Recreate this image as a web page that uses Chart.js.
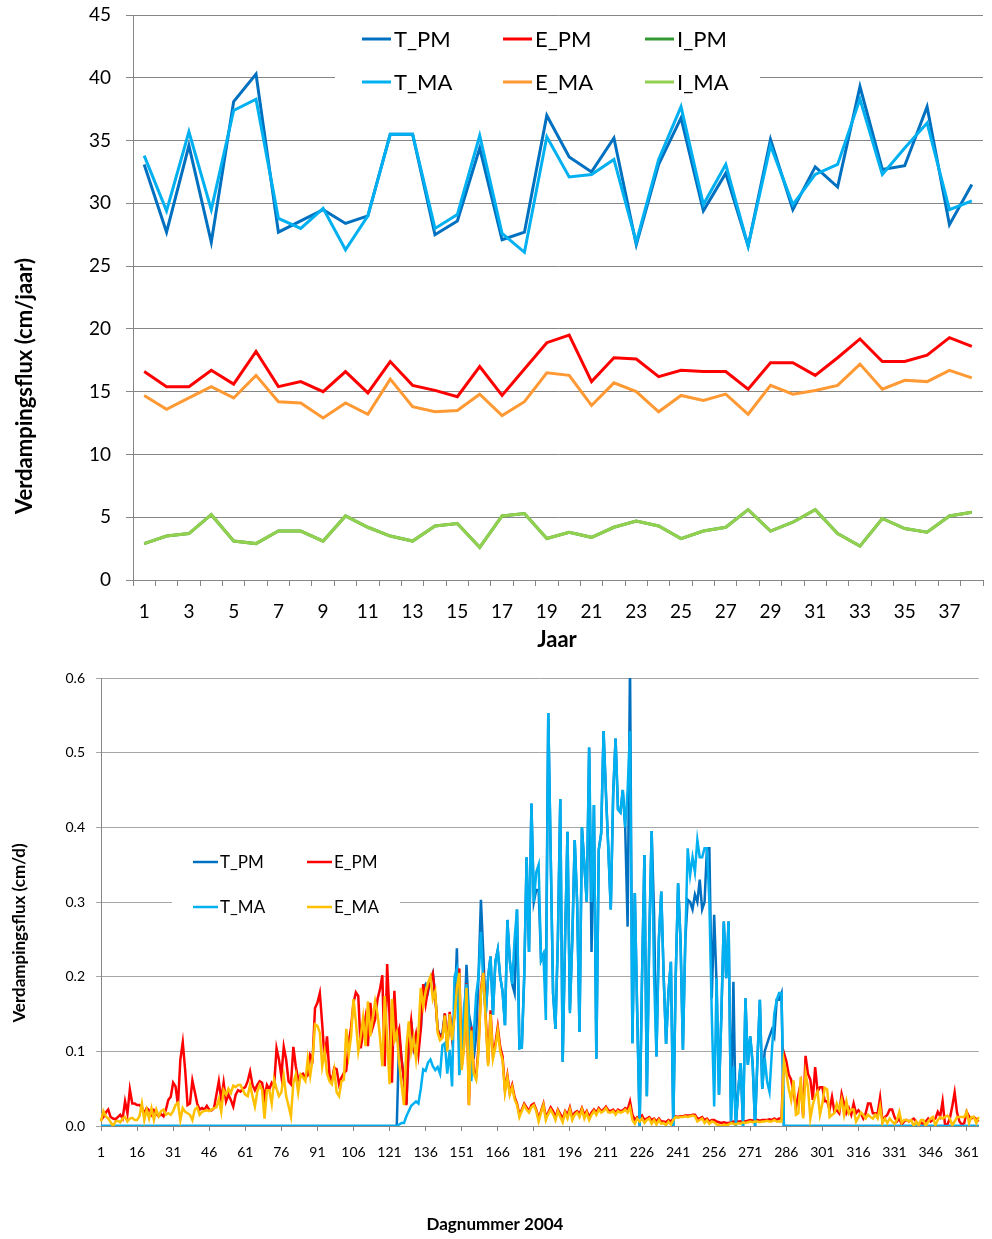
<!DOCTYPE html>
<html>
<head>
<meta charset="utf-8">
<script src="https://cdn.jsdelivr.net/npm/chart.js@4.4.1/dist/chart.umd.min.js"></script>
<style>
  body { margin: 0; background: #fff; }
  #boven, #onder { display: block; }
</style>
</head>
<body>
<canvas id="boven" width="992" height="655"></canvas>
<canvas id="onder" width="992" height="584"></canvas>
<script>
// ---- jaargegevens (cm/jaar) ----
const jaren = [1,2,3,4,5,6,7,8,9,10,11,12,13,14,15,16,17,18,19,20,21,22,23,24,25,26,27,28,29,30,31,32,33,34,35,36,37,38];
const jaarTicks = [1,3,5,7,9,11,13,15,17,19,21,23,25,27,29,31,33,35,37];

const tPmJaar = [33.1, 27.7, 34.6, 26.9, 38.1, 40.3, 27.7, 28.6, 29.5, 28.4, 29.0, 35.5, 35.5, 27.5, 28.6, 34.4, 27.1, 27.7, 37.0, 33.7, 32.5, 35.2, 26.7, 33.1, 36.8, 29.4, 32.4, 26.6, 35.1, 29.5, 32.9, 31.3, 39.3, 32.7, 33.0, 37.7, 28.3, 31.5];
const ePmJaar = [16.6, 15.4, 15.4, 16.7, 15.6, 18.2, 15.4, 15.8, 15.0, 16.6, 14.9, 17.4, 15.5, 15.1, 14.6, 17.0, 14.7, 16.8, 18.9, 19.5, 15.8, 17.7, 17.6, 16.2, 16.7, 16.6, 16.6, 15.2, 17.3, 17.3, 16.3, 17.7, 19.2, 17.4, 17.4, 17.9, 19.3, 18.6];
const iPmJaar = [2.9, 3.5, 3.7, 5.2, 3.1, 2.9, 3.9, 3.9, 3.1, 5.1, 4.2, 3.5, 3.1, 4.3, 4.5, 2.6, 5.1, 5.3, 3.3, 3.8, 3.4, 4.2, 4.7, 4.3, 3.3, 3.9, 4.2, 5.6, 3.9, 4.6, 5.6, 3.7, 2.7, 4.9, 4.1, 3.8, 5.1, 5.4];
const tMaJaar = [33.8, 29.4, 35.7, 29.5, 37.4, 38.3, 28.8, 28.0, 29.6, 26.3, 29.0, 35.5, 35.5, 28.0, 29.1, 35.4, 27.6, 26.1, 35.3, 32.1, 32.3, 33.5, 26.9, 33.5, 37.7, 29.9, 33.1, 26.6, 34.6, 29.9, 32.3, 33.1, 38.3, 32.3, 34.4, 36.4, 29.5, 30.2];
const eMaJaar = [14.7, 13.6, 14.5, 15.4, 14.5, 16.3, 14.2, 14.1, 12.9, 14.1, 13.2, 16.0, 13.8, 13.4, 13.5, 14.8, 13.1, 14.2, 16.5, 16.3, 13.9, 15.7, 15.0, 13.4, 14.7, 14.3, 14.8, 13.2, 15.5, 14.8, 15.1, 15.5, 17.2, 15.2, 15.9, 15.8, 16.7, 16.1];
const iMaJaar = [2.9, 3.5, 3.7, 5.2, 3.1, 2.9, 3.9, 3.9, 3.1, 5.1, 4.2, 3.5, 3.1, 4.3, 4.5, 2.6, 5.1, 5.3, 3.3, 3.8, 3.4, 4.2, 4.7, 4.3, 3.3, 3.9, 4.2, 5.6, 3.9, 4.6, 5.6, 3.7, 2.7, 4.9, 4.1, 3.8, 5.1, 5.4];

// ---- daggegevens 2004 (cm/d) ----
const dagen = Array.from({ length: 366 }, (_, i) => i + 1);
const dagTicks = [1,16,31,46,61,76,91,106,121,136,151,166,181,196,211,226,241,256,271,286,301,316,331,346,361];

const tPmDag = [
  0,0,0,0,0,0,0,0,0,0, 0,0,0,0,0,0,0,0,0,0, 0,0,0,0,0,0,0,0,0,0, 0,0,0,0,0,0,0,0,0,0,
  0,0,0,0,0,0,0,0,0,0, 0,0,0,0,0,0,0,0,0,0, 0,0,0,0,0,0,0,0,0,0, 0,0,0,0,0,0,0,0,0,0,
  0,0,0,0,0,0,0,0,0,0, 0,0,0,0,0,0,0,0,0,0, 0,0,0,0,0,0,0,0,0,0, 0,0,0,0,0,0,0,0,0,0,
  0, 0, 0, 0, 0.120, 0.090, 0.062, 0.030, 0.110, 0.140,
  0.105, 0.120, 0.120, 0.130, 0.185, 0.190, 0.180, 0.195, 0.205, 0.175,
  0.130, 0.120, 0.125, 0.150, 0.105, 0.150, 0.120, 0.150, 0.238, 0.100,
  0.110, 0.130, 0.216, 0.150, 0.133, 0.090, 0.120, 0.200, 0.303, 0.230,
  0.150, 0.200, 0.227, 0.149, 0.220, 0.236, 0.200, 0.180, 0.135, 0.276,
  0.222, 0.190, 0.178, 0.290, 0.104, 0.105, 0.200, 0.360, 0.233, 0.432,
  0.300, 0.316, 0.316, 0.222, 0.230, 0.180, 0.553, 0.367, 0.178, 0.130,
  0.250, 0.438, 0.086, 0.250, 0.394, 0.155, 0.250, 0.383, 0.300, 0.126,
  0.400, 0.350, 0.300, 0.507, 0.233, 0.430, 0.090, 0.370, 0.392, 0.529,
  0.446, 0.370, 0.290, 0.445, 0.519, 0.424, 0.420, 0.450, 0.400, 0.267,
  0.620, 0.111, 0.312, 0.150, 0.000, 0.200, 0.363, 0.040, 0.250, 0.395,
  0.285, 0.093, 0.250, 0.314, 0.200, 0.110, 0.180, 0.220, 0.000, 0.200,
  0.325, 0.250, 0.102, 0.250, 0.303, 0.300, 0.290, 0.310, 0.300, 0.330,
  0.290, 0.300, 0.372, 0.372, 0.171, 0.283, 0.190, 0.042, 0.150, 0.274,
  0.198, 0.274, 0.006, 0.193, 0.000, 0.048, 0.084, 0.000, 0.171, 0.082,
  0.120, 0.084, 0.000, 0.090, 0.169, 0.050, 0.100, 0.110, 0.120, 0.129,
  0.120, 0.169, 0.169, 0.178, 0, 0, 0, 0, 0, 0,
  0,0,0,0,0,0,0,0,0,0, 0,0,0,0,0,0,0,0,0,0, 0,0,0,0,0,0,0,0,0,0, 0,0,0,0,0,0,0,0,0,0,
  0,0,0,0,0,0,0,0,0,0, 0,0,0,0,0,0,0,0,0,0, 0,0,0,0,0,0,0,0,0,0,
  0,0,0,0,0,0
];

const ePmDag = [
  0.008, 0.012, 0.018, 0.022, 0.012, 0.010, 0.009, 0.012, 0.015, 0.010,
  0.033, 0.017, 0.049, 0.030, 0.030, 0.028, 0.028, 0.025, 0.017, 0.024,
  0.021, 0.015, 0.021, 0.016, 0.013, 0.016, 0.013, 0.022, 0.035, 0.039,
  0.058, 0.053, 0.028, 0.089, 0.112, 0.075, 0.028, 0.030, 0.061, 0.046,
  0.030, 0.022, 0.024, 0.022, 0.027, 0.022, 0.021, 0.024, 0.042, 0.060,
  0.035, 0.058, 0.033, 0.042, 0.035, 0.026, 0.042, 0.048, 0.046, 0.050,
  0.052, 0.060, 0.073, 0.055, 0.048, 0.055, 0.060, 0.058, 0.038, 0.055,
  0.049, 0.058, 0.054, 0.104, 0.089, 0.067, 0.106, 0.089, 0.060, 0.056,
  0.106, 0.080, 0.062, 0.068, 0.070, 0.065, 0.068, 0.095, 0.089, 0.158,
  0.165, 0.178, 0.136, 0.089, 0.120, 0.069, 0.060, 0.078, 0.076, 0.056,
  0.065, 0.071, 0.074, 0.112, 0.132, 0.165, 0.179, 0.174, 0.104, 0.125,
  0.145, 0.107, 0.165, 0.132, 0.143, 0.170, 0.183, 0.202, 0.080, 0.217,
  0.147, 0.058, 0.181, 0.120, 0.130, 0.089, 0.060, 0.028, 0.112, 0.141,
  0.107, 0.123, 0.096, 0.130, 0.190, 0.163, 0.183, 0.194, 0.204, 0.174,
  0.129, 0.120, 0.120, 0.151, 0.106, 0.153, 0.120, 0.150, 0.190, 0.211,
  0.080, 0.110, 0.191, 0.028, 0.133, 0.075, 0.066, 0.106, 0.182, 0.209,
  0.146, 0.084, 0.155, 0.095, 0.110, 0.133, 0.106, 0.093, 0.048, 0.068,
  0.044, 0.055, 0.039, 0.030, 0.015, 0.022, 0.030, 0.025, 0.020, 0.028,
  0.030, 0.022, 0.010, 0.020, 0.030, 0.012, 0.018, 0.025, 0.020, 0.012,
  0.022, 0.016, 0.010, 0.020, 0.015, 0.025, 0.012, 0.018, 0.020, 0.016,
  0.024, 0.015, 0.020, 0.012, 0.018, 0.022, 0.018, 0.024, 0.020, 0.022,
  0.026, 0.021, 0.020, 0.022, 0.018, 0.022, 0.020, 0.021, 0.024, 0.022,
  0.033, 0.015, 0.008, 0.012, 0.010, 0.014, 0.008, 0.010, 0.012, 0.008,
  0.010, 0.006, 0.010, 0.006, 0.006, 0.005, 0.008, 0.006, 0.010, 0.013,
  0.012, 0.013, 0.013, 0.014, 0.014, 0.014, 0.015, 0.015, 0.010, 0.010,
  0.012, 0.008, 0.010, 0.006, 0.008, 0.008, 0.006, 0.005, 0.004, 0.005,
  0.004, 0.004, 0.005, 0.006, 0.005, 0.006, 0.006, 0.007, 0.006, 0.007,
  0.008, 0.007, 0.008, 0.008, 0.007, 0.008, 0.008, 0.008, 0.009, 0.008,
  0.010, 0.008, 0.010, 0.010, 0.098, 0.087, 0.069, 0.062, 0.045, 0.024,
  0.042, 0.057, 0.013, 0.094, 0.070, 0.062, 0.035, 0.079, 0.046, 0.052,
  0.052, 0.033, 0.033, 0.022, 0.039, 0.019, 0.021, 0.017, 0.043, 0.030,
  0.017, 0.024, 0.015, 0.030, 0.017, 0.021, 0.017, 0.010, 0.017, 0.030,
  0.030, 0.017, 0.017, 0.017, 0.038, 0.006, 0.012, 0.015, 0.022, 0.022,
  0.012, 0.006, 0.010, 0.002, 0.006, 0.008, 0.006, 0.008, 0.010, 0.006,
  0.002, 0.005, 0.002, 0.006, 0.010, 0.006, 0.008, 0.010, 0.019, 0.013,
  0.033, 0.002, 0.002, 0.010, 0.026, 0.045, 0.018, 0.006, 0.002, 0.004,
  0.019, 0.013, 0.010, 0.012, 0.009, 0.006
];

const tMaDag = [
  0,0,0,0,0,0,0,0,0,0, 0,0,0,0,0,0,0,0,0,0, 0,0,0,0,0,0,0,0,0,0, 0,0,0,0,0,0,0,0,0,0,
  0,0,0,0,0,0,0,0,0,0, 0,0,0,0,0,0,0,0,0,0, 0,0,0,0,0,0,0,0,0,0, 0,0,0,0,0,0,0,0,0,0,
  0,0,0,0,0,0,0,0,0,0, 0,0,0,0,0,0,0,0,0,0, 0,0,0,0,0,0,0,0,0,0, 0,0,0,0,0,0,0,0,0,0,
  0, 0, 0, 0, 0.002, 0.004, 0.004, 0.013, 0.020, 0.027,
  0.030, 0.033, 0.030, 0.050, 0.076, 0.074, 0.085, 0.089, 0.080, 0.075,
  0.079, 0.070, 0.108, 0.111, 0.070, 0.102, 0.053, 0.200, 0.210, 0.068,
  0.100, 0.160, 0.190, 0.146, 0.060, 0.120, 0.175, 0.200, 0.260, 0.190,
  0.150, 0.200, 0.227, 0.149, 0.220, 0.236, 0.200, 0.180, 0.135, 0.276,
  0.222, 0.190, 0.250, 0.290, 0.104, 0.105, 0.200, 0.360, 0.233, 0.432,
  0.300, 0.340, 0.350, 0.222, 0.230, 0.142, 0.553, 0.367, 0.178, 0.130,
  0.250, 0.438, 0.086, 0.250, 0.394, 0.151, 0.250, 0.383, 0.300, 0.126,
  0.400, 0.350, 0.300, 0.507, 0.300, 0.430, 0.090, 0.370, 0.392, 0.529,
  0.443, 0.370, 0.290, 0.445, 0.519, 0.424, 0.420, 0.450, 0.400, 0.450,
  0.529, 0.111, 0.312, 0.150, 0.000, 0.200, 0.363, 0.040, 0.250, 0.395,
  0.200, 0.093, 0.250, 0.314, 0.200, 0.110, 0.180, 0.220, 0.000, 0.200,
  0.325, 0.250, 0.102, 0.250, 0.372, 0.336, 0.360, 0.340, 0.383, 0.360,
  0.360, 0.372, 0.372, 0.300, 0.150, 0.026, 0.198, 0.042, 0.150, 0.274,
  0.198, 0.274, 0.006, 0.080, 0.000, 0.048, 0.084, 0.000, 0.171, 0.082,
  0.120, 0.084, 0.000, 0.090, 0.169, 0.050, 0.092, 0.060, 0.046, 0.100,
  0.150, 0.169, 0.178, 0.178, 0, 0, 0, 0, 0, 0,
  0,0,0,0,0,0,0,0,0,0, 0,0,0,0,0,0,0,0,0,0, 0,0,0,0,0,0,0,0,0,0, 0,0,0,0,0,0,0,0,0,0,
  0,0,0,0,0,0,0,0,0,0, 0,0,0,0,0,0,0,0,0,0, 0,0,0,0,0,0,0,0,0,0,
  0,0,0,0,0,0
];

const eMaDag = [
  0.006, 0.020, 0.013, 0.010, 0.005, 0.000, 0.006, 0.007, 0.005, 0.010,
  0.012, 0.006, 0.010, 0.011, 0.008, 0.008, 0.013, 0.030, 0.008, 0.022,
  0.010, 0.024, 0.008, 0.022, 0.013, 0.020, 0.022, 0.015, 0.017, 0.015,
  0.020, 0.028, 0.031, 0.008, 0.024, 0.019, 0.017, 0.015, 0.008, 0.022,
  0.025, 0.015, 0.019, 0.020, 0.021, 0.020, 0.022, 0.024, 0.025, 0.036,
  0.019, 0.048, 0.042, 0.050, 0.044, 0.054, 0.052, 0.055, 0.055, 0.048,
  0.042, 0.040, 0.055, 0.040, 0.026, 0.046, 0.055, 0.048, 0.010, 0.048,
  0.048, 0.030, 0.062, 0.050, 0.040, 0.045, 0.067, 0.040, 0.027, 0.013,
  0.058, 0.069, 0.045, 0.069, 0.065, 0.060, 0.090, 0.067, 0.090, 0.136,
  0.134, 0.125, 0.080, 0.100, 0.070, 0.060, 0.056, 0.075, 0.045, 0.040,
  0.060, 0.062, 0.130, 0.095, 0.120, 0.170, 0.140, 0.100, 0.120, 0.145,
  0.107, 0.167, 0.120, 0.145, 0.167, 0.150, 0.120, 0.080, 0.174, 0.120,
  0.056, 0.170, 0.115, 0.125, 0.085, 0.055, 0.028, 0.105, 0.140, 0.100,
  0.118, 0.090, 0.125, 0.185, 0.160, 0.180, 0.192, 0.200, 0.170, 0.180,
  0.125, 0.115, 0.118, 0.148, 0.100, 0.150, 0.115, 0.145, 0.185, 0.205,
  0.075, 0.105, 0.185, 0.028, 0.128, 0.070, 0.062, 0.100, 0.178, 0.205,
  0.140, 0.080, 0.150, 0.090, 0.105, 0.128, 0.100, 0.088, 0.045, 0.065,
  0.042, 0.052, 0.036, 0.028, 0.012, 0.020, 0.028, 0.022, 0.018, 0.025,
  0.028, 0.020, 0.006, 0.018, 0.028, 0.008, 0.016, 0.022, 0.016, 0.008,
  0.020, 0.012, 0.005, 0.018, 0.010, 0.022, 0.008, 0.015, 0.018, 0.012,
  0.022, 0.010, 0.018, 0.008, 0.015, 0.020, 0.015, 0.022, 0.018, 0.020,
  0.024, 0.018, 0.018, 0.020, 0.015, 0.020, 0.018, 0.019, 0.022, 0.018,
  0.025, 0.008, 0.003, 0.010, 0.006, 0.010, 0.004, 0.008, 0.010, 0.003,
  0.008, 0.002, 0.008, 0.003, 0.004, 0.001, 0.006, 0.002, 0.008, 0.012,
  0.011, 0.012, 0.012, 0.013, 0.012, 0.013, 0.014, 0.013, 0.006, 0.008,
  0.010, 0.004, 0.008, 0.003, 0.006, 0.005, 0.002, 0.001, 0.000, 0.002,
  0.001, 0.002, 0.004, 0.003, 0.002, 0.004, 0.003, 0.005, 0.004, 0.005,
  0.006, 0.005, 0.006, 0.006, 0.005, 0.006, 0.006, 0.007, 0.006, 0.006,
  0.008, 0.006, 0.006, 0.006, 0.087, 0.071, 0.050, 0.035, 0.061, 0.015,
  0.017, 0.066, 0.010, 0.071, 0.052, 0.010, 0.028, 0.040, 0.046, 0.015,
  0.030, 0.051, 0.049, 0.012, 0.015, 0.017, 0.030, 0.022, 0.035, 0.015,
  0.033, 0.017, 0.022, 0.022, 0.006, 0.012, 0.018, 0.015, 0.010, 0.015,
  0.012, 0.010, 0.015, 0.010, 0.026, 0.004, 0.010, 0.004, 0.010, 0.006,
  0.003, 0.008, 0.019, 0.004, 0.008, 0.008, 0.006, 0.008, 0.000, 0.006,
  0.001, 0.008, 0.008, 0.000, 0.006, 0.010, 0.012, 0.001, 0.008, 0.012,
  0.010, 0.012, 0.014, 0.010, 0.001, 0.006, 0.012, 0.012, 0.012, 0.012,
  0.019, 0.004, 0.012, 0.012, 0.004, 0.012
];

const lettertype = "Lato, 'Open Sans', sans-serif";
Chart.defaults.font.family = lettertype;
Chart.defaults.color = "#000000";

// legenda in een wit kader binnen het grafiekvlak, zoals in Excel
const legendaKader = {
    id: "legendaKader",
    afterDraw(chart, args, o) {
        const ctx = chart.ctx;
        ctx.save();
        ctx.fillStyle = "#ffffff";
        ctx.fillRect(o.kader[0], o.kader[1], o.kader[2], o.kader[3]);
        ctx.font = o.font;
        ctx.textBaseline = "middle";
        ctx.textAlign = "left";
        chart.data.datasets.forEach((ds, i) => {
            const x = o.kolommen[i % o.kolommen.length];
            const y = o.rijen[Math.floor(i / o.kolommen.length)];
            ctx.strokeStyle = ds.borderColor;
            ctx.lineWidth = o.lijnDikte;
            ctx.beginPath();
            ctx.moveTo(x, y);
            ctx.lineTo(x + o.staal, y);
            ctx.stroke();
            ctx.fillStyle = "#000000";
            ctx.fillText(ds.label, x + o.staal + o.tussenruimte, y + 1);
        });
        ctx.restore();
    }
};

// astitels op een vaste plek, Excel zet ze niet precies in het midden
const asTitels = {
    id: "asTitels",
    afterDraw(chart, args, o) {
        const ctx = chart.ctx;
        o.titels.forEach(t => {
            ctx.save();
            ctx.translate(t.x, t.y);
            ctx.rotate(t.hoek || 0);
            ctx.font = t.font;
            ctx.fillStyle = "#000000";
            ctx.textAlign = "center";
            ctx.textBaseline = "middle";
            ctx.fillText(t.tekst, 0, 0);
            ctx.restore();
        });
    }
};

function lijn(label, data, kleur, dikte, volgorde) {
    return {
        label: label,
        data: data,
        borderColor: kleur,
        backgroundColor: kleur,
        borderWidth: dikte,
        pointRadius: 0,
        tension: 0,
        fill: false,
        order: volgorde
    };
}

new Chart(document.getElementById("boven"), {
    type: "line",
    data: {
        labels: jaren,
        datasets: [
            lijn("T_PM", tPmJaar, "#0070C0", 3, 6),
            lijn("E_PM", ePmJaar, "#FF0000", 3, 5),
            lijn("I_PM", iPmJaar, "#339933", 3, 4),
            lijn("T_MA", tMaJaar, "#00B0F0", 3, 3),
            lijn("E_MA", eMaJaar, "#FF9933", 3, 2),
            lijn("I_MA", iMaJaar, "#92D050", 3, 1)
        ]
    },
    options: {
        responsive: false,
        animation: false,
        layout: { autoPadding: false, padding: { top: 15, right: 9, left: 0, bottom: 0 } },
        plugins: {
            legend: { display: false },
            tooltip: { enabled: false },
            legendaKader: {
                kader: [335, 20, 425, 80],
                kolommen: [362, 503, 645],
                rijen: [39, 82],
                staal: 29,
                tussenruimte: 3,
                lijnDikte: 3,
                font: "22px " + lettertype
            },
            asTitels: {
                titels: [
                    { tekst: "Jaar", x: 557, y: 640, font: "bold 22px " + lettertype },
                    { tekst: "Verdampingsflux (cm/jaar)", x: 25, y: 386, hoek: -Math.PI / 2, font: "bold 22px " + lettertype }
                ]
            }
        },
        scales: {
            x: {
                offset: true,
                grid: { offset: true, drawOnChartArea: false, drawTicks: true, tickLength: 6, color: "#868686" },
                border: { color: "#868686" },
                ticks: {
                    autoSkip: false,
                    maxRotation: 0,
                    padding: 14,
                    font: { size: 19 },
                    callback: function (v) {
                        const l = this.getLabelForValue(v);
                        return jaarTicks.includes(l) ? String(l) : "";
                    }
                },
                afterFit: function (s) { s.height = 75; }
            },
            y: {
                min: 0,
                max: 45,
                grid: { color: "#868686", tickLength: 7 },
                border: { color: "#868686" },
                ticks: { stepSize: 5, padding: 15, font: { size: 19 } },
                afterFit: function (s) {
                    s.width = 133;
                    s.paddingTop = 0;
                    s.paddingBottom = 0;
                }
            }
        }
    },
    plugins: [legendaKader, asTitels]
});

new Chart(document.getElementById("onder"), {
    type: "line",
    data: {
        labels: dagen,
        datasets: [
            lijn("T_PM", tPmDag, "#0070C0", 2.5, 4),
            lijn("E_PM", ePmDag, "#FF0000", 2.5, 3),
            lijn("T_MA", tMaDag, "#00B0F0", 2.5, 2),
            lijn("E_MA", eMaDag, "#FFC000", 2.5, 1)
        ]
    },
    options: {
        responsive: false,
        animation: false,
        layout: { autoPadding: false, padding: { top: 23, right: 12, left: 0, bottom: 0 } },
        plugins: {
            legend: { display: false },
            tooltip: { enabled: false },
            legendaKader: {
                kader: [172, 186, 228, 84],
                kolommen: [193, 307],
                rijen: [207, 252],
                staal: 25,
                tussenruimte: 2,
                lijnDikte: 2.5,
                font: "17px " + lettertype
            },
            asTitels: {
                titels: [
                    { tekst: "Dagnummer 2004", x: 495, y: 570, font: "bold 17px " + lettertype },
                    { tekst: "Verdampingsflux (cm/d)", x: 20, y: 278, hoek: -Math.PI / 2, font: "bold 17px " + lettertype }
                ]
            }
        },
        scales: {
            x: {
                grid: { drawOnChartArea: false, drawTicks: true, tickLength: 5, color: "#868686" },
                border: { color: "#868686" },
                ticks: {
                    autoSkip: false,
                    maxRotation: 0,
                    padding: 13,
                    font: { size: 14 },
                    callback: function (v) {
                        const l = this.getLabelForValue(v);
                        return dagTicks.includes(l) ? String(l) : null;
                    }
                },
                afterFit: function (s) { s.height = 113; }
            },
            y: {
                min: 0,
                max: 0.6,
                grid: { color: "#a6a6a6", tickLength: 5 },
                border: { color: "#868686" },
                ticks: {
                    stepSize: 0.1,
                    padding: 11,
                    font: { size: 14 },
                    callback: function (v) { return v.toFixed(1); }
                },
                afterFit: function (s) {
                    s.width = 101;
                    s.paddingTop = 0;
                    s.paddingBottom = 0;
                }
            }
        }
    },
    plugins: [legendaKader, asTitels]
});
</script>
</body>
</html>
